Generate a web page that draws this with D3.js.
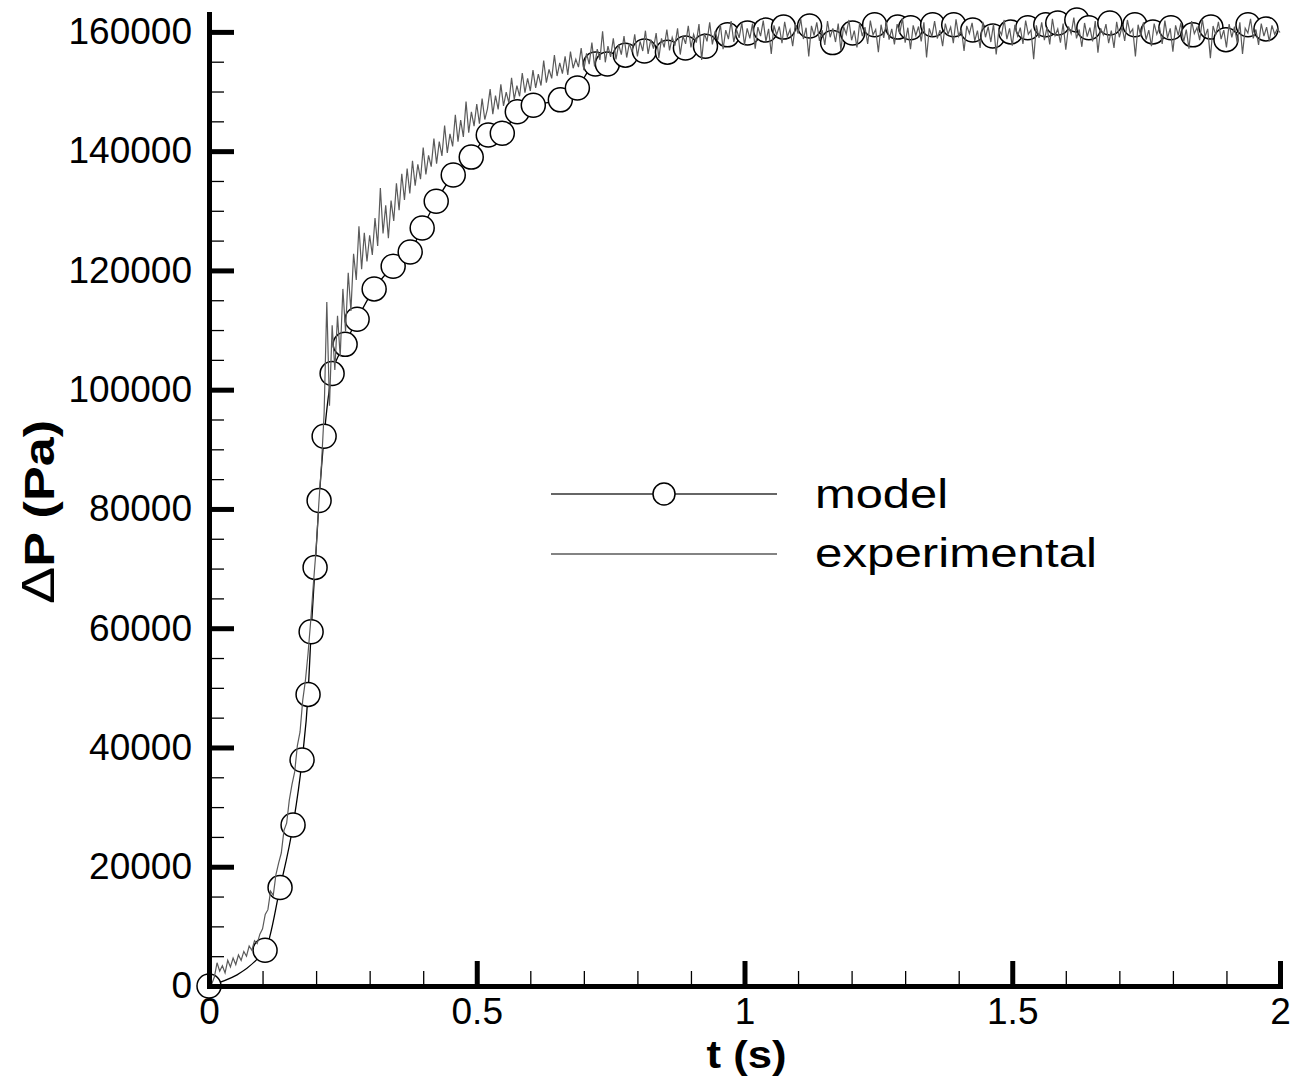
<!DOCTYPE html>
<html>
<head>
<meta charset="utf-8">
<script src="https://cdn.jsdelivr.net/npm/d3@7"></script>
<style>
    body { margin: 0; background: #fff; }
    svg { display: block; font-family: "Liberation Sans", Arial, sans-serif; }
</style>
</head>
<body>
<svg id="chart"></svg>
<script>
// model output (marker points)
var modelT = [0, 0.1047, 0.1327, 0.157, 0.1738, 0.185, 0.1907, 0.1981, 0.2056, 0.215,
    0.2299, 0.2542, 0.2766, 0.3084, 0.3439, 0.3757, 0.3981, 0.4243, 0.4561, 0.4897,
    0.5215, 0.5477, 0.5757, 0.6056, 0.6561, 0.6879, 0.7215, 0.7439, 0.7776, 0.8131,
    0.8561, 0.8897, 0.9271, 0.9682, 1.0056, 1.0393, 1.0729, 1.1215, 1.1645, 1.2019,
    1.243, 1.286, 1.3103, 1.3514, 1.3907, 1.4262, 1.4636, 1.4972, 1.529, 1.5626,
    1.585, 1.6206, 1.643, 1.6822, 1.729, 1.7626, 1.7963, 1.8374, 1.871, 1.8991,
    1.9402, 1.9738];
var modelP = [0, 6000, 16500, 27000, 37900, 48900, 59400, 70200, 81400, 92200,
    102700, 107600, 111800, 116900, 120700, 123100, 127100, 131600, 136000, 139000,
    142700, 143000, 146600, 147700, 148600, 150600, 154600, 154600, 156100, 156800,
    156600, 157300, 157600, 159500, 159800, 160300, 160800, 161000, 158200, 159800,
    161200, 160800, 160700, 161200, 161200, 160300, 159300, 160000, 160700, 161200,
    161500, 162000, 160700, 161500, 161200, 160000, 160700, 159500, 160800, 158700,
    161200, 160500];

// experimental signal, sampled every expStep seconds from t = 0
var expStep = 0.005;
var expP = [
    0, 300, 1500, 3900, 2500, 3400, 2200, 4300, 3200, 4700,
    3600, 5200, 4300, 5800, 5000, 6700, 6000, 7600, 7100, 8700,
    9600, 12000, 12800, 15900, 15200, 18700, 20600, 22300, 26100, 27300,
    31200, 33800, 35900, 40300, 42600, 47900, 51200, 55800, 61300, 67500,
    73200, 80800, 87400, 96100, 114700, 97300, 110800, 103300, 112400, 105600,
    116900, 109800, 119600, 113200, 122800, 118400, 127400, 120200, 126300, 121500,
    125900, 122600, 128800, 124100, 133800, 126200, 130900, 125400, 131700, 128300,
    134600, 130100, 136200, 131800, 137100, 132900, 138400, 134200, 137800, 135300,
    140600, 136100, 139300, 137400, 142100, 137900, 141600, 139200, 144300, 139700,
    142900, 140800, 146100, 141600, 145200, 142400, 148300, 143100, 146600, 144200,
    147900, 144600, 148800, 145300, 147100, 150400, 146200, 149300, 147000, 151200,
    147600, 149900, 148100, 152300, 148700, 151000, 149200, 153100, 149800, 152200,
    150100, 153600, 150600, 152900, 151000, 155200, 151500, 153700, 152200, 156100,
    152600, 154800, 153000, 155900, 152800, 156700, 153900, 155400, 154100, 157300,
    153600, 156400, 154600, 158200, 154200, 157100, 155300, 160100, 154900, 157600,
    155800, 158900, 155400, 157900, 156200, 159300, 155700, 158100, 156600, 159600,
    155900, 158400, 156800, 160200, 156300, 158700, 157200, 159800, 155600, 158900,
    157400, 160400, 156900, 159100, 157700, 160600, 156200, 159300, 158000, 161000,
    157400, 159600, 158200, 161300, 155300, 159800, 158400, 161600, 157900, 160100,
    158600, 161200, 157100, 160300, 158800, 161800, 158300, 160400, 159000, 161500,
    157800, 160600, 158900, 161400, 157200, 160800, 159300, 161900, 158400, 160500,
    156300, 161100, 159500, 160900, 158100, 161700, 159200, 160400, 157600, 161300,
    159700, 162200, 158800, 160700, 155900, 161000, 159400, 161600, 158500, 160300,
    157800, 161800, 159100, 160600, 158300, 161400, 156900, 160900, 159600, 162000,
    158600, 160200, 157400, 161500, 159300, 160800, 158000, 161900, 159500, 160400,
    156600, 161200, 159000, 161700, 158700, 160500, 157900, 161300, 159800, 162300,
    158200, 160700, 157100, 161100, 159400, 160900, 158400, 161600, 155700, 160600,
    159200, 161800, 158900, 160300, 157600, 161400, 159600, 160800, 158100, 162100,
    159300, 160500, 156800, 161000, 159700, 161500, 158500, 160200, 157300, 161700,
    159100, 160900, 158300, 161300, 156200, 160400, 159500, 162000, 158800, 160600,
    157700, 161200, 159300, 160700, 158000, 161900, 159600, 160300, 155400, 161100,
    159000, 161600, 158600, 160800, 157900, 162200, 159400, 160500, 158200, 161400,
    157000, 160900, 159700, 162400, 158900, 160400, 157500, 161500, 159200, 160700,
    158400, 161800, 156500, 160600, 159500, 161300, 158100, 160200, 157300, 161700,
    159100, 160900, 158500, 162000, 159800, 160500, 155900, 161200, 159300, 161600,
    158700, 160300, 157600, 161400, 159600, 160800, 158000, 161900, 159000, 160600,
    156700, 161100, 159400, 161500, 158300, 160400, 157200, 161800, 159700, 160700,
    158600, 162100, 159200, 160500, 155600, 161000, 159500, 161700, 158800, 160300,
    157400, 161300, 159100, 160900, 158200, 161600, 156300, 160600, 159800, 162200,
    158900, 160400, 157800, 161400, 159300, 160800, 158400, 161100, 159600, 160500,
    159900];

// axis ticks
var xTicks = [0, 0.5, 1, 1.5, 2];
var yTicks = [0, 20000, 40000, 60000, 80000, 100000, 120000, 140000, 160000];
var seriesNames = ["model", "experimental"];

function LineGraph(ID, cfg)
{
    var svgWidth = cfg.width, svgHeight = cfg.height;
    var margin = cfg.margin;
    var width = svgWidth - margin.left - margin.right;
    var height = svgHeight - margin.top - margin.bottom;

    var x = d3.scaleLinear().domain([0, 2]).range([0, width]);
    var y = d3.scaleLinear().domain([0, 163000]).range([height, 0]);

    var svg = d3.select("#" + ID).attr("width", svgWidth).attr("height", svgHeight);
    var g = svg.append("g").attr("transform", "translate(" + margin.left + "," + margin.top + ")");

    var model = modelT.map(function (t, i) { return {t: t, p: modelP[i]}; });
    var exp = expP.map(function (p, i) { return {t: i * expStep, p: p}; });

    var line = d3.line()
        .x(function (d) { return x(d.t); })
        .y(function (d) { return y(d.p); });

    // model line, then its markers
    g.append("path").datum(model)
        .attr("d", line.curve(d3.curveMonotoneX))
        .attr("fill", "none").attr("stroke", "#000").attr("stroke-width", 1.3);

    g.selectAll(".marker")
        .data(model)
        .enter().append("circle")
        .attr("class", "marker")
        .attr("cx", function (d) { return x(d.t); })
        .attr("cy", function (d) { return y(d.p); })
        .attr("r", 12)
        .attr("fill", "#fff").attr("stroke", "#000").attr("stroke-width", 1.5);

    // experimental signal on top
    g.append("path").datum(exp)
        .attr("d", line.curve(d3.curveLinear))
        .attr("fill", "none").attr("stroke", "#5a5a5a").attr("stroke-width", 1.2);

    // minor ticks
    var xMinor = d3.range(0, 2.001, 0.1).filter(function (v) { return Math.abs(v * 2 - Math.round(v * 2)) > 1e-6; });
    var yMinor = d3.range(0, 163000, 5000).filter(function (v) { return v % 20000 !== 0; });

    g.append("g").attr("class", "minor").attr("transform", "translate(0," + height + ")")
        .call(d3.axisBottom(x).tickValues(xMinor).tickSize(-15).tickFormat(""));
    g.append("g").attr("class", "minor")
        .call(d3.axisLeft(y).tickValues(yMinor).tickSize(-15).tickFormat(""));
    g.selectAll(".minor .domain").remove();
    g.selectAll(".minor line").attr("stroke", "#000").attr("stroke-width", 1.3);

    // add the x Axis
    g.append("g").attr("class", "major").attr("transform", "translate(0," + height + ")")
        .call(d3.axisBottom(x).tickValues(xTicks).tickSize(-25).tickSizeOuter(0).tickPadding(12).tickFormat(d3.format("~g")));

    // add the y Axis
    g.append("g").attr("class", "major")
        .call(d3.axisLeft(y).tickValues(yTicks).tickSize(-25).tickSizeOuter(0).tickPadding(17).tickFormat(d3.format("d")));

    g.selectAll(".major .domain").attr("stroke", "#000").attr("stroke-width", 5).attr("stroke-linecap", "square");
    g.selectAll(".major line").attr("stroke", "#000").attr("stroke-width", 5);
    g.selectAll(".major text").attr("fill", "#000").style("font-size", "37px").style("font-family", "'Liberation Sans', Arial, sans-serif");

    //text label for x axis
    svg.append("text").attr("x", margin.left + width / 2 + 2).attr("y", 1068)
        .attr("text-anchor", "middle").style("font-size", "38px").style("font-weight", "bold")
        .attr("textLength", 80).attr("lengthAdjust", "spacingAndGlyphs")
        .text(cfg.labelx);

    //text label for y axis
    var yl = svg.append("text").attr("transform", "translate(54," + 512 + ") rotate(-90)")
        .attr("text-anchor", "middle").style("font-size", "43px").style("font-weight", "bold")
        .attr("textLength", 184).attr("lengthAdjust", "spacingAndGlyphs");
    yl.append("tspan").style("font-weight", "normal").style("font-size", "46px").text(cfg.labely[0]);
    yl.append("tspan").text(cfg.labely.slice(1));

    // legend
    var leg = svg.append("g").attr("transform", "translate(551,494)");
    leg.append("line").attr("x1", 0).attr("x2", 226).attr("y1", 0).attr("y2", 0)
        .attr("stroke", "#333").attr("stroke-width", 1.6);
    leg.append("circle").attr("cx", 113).attr("cy", 0).attr("r", 11)
        .attr("fill", "#fff").attr("stroke", "#000").attr("stroke-width", 1.5);
    leg.append("line").attr("x1", 0).attr("x2", 226).attr("y1", 60).attr("y2", 60)
        .attr("stroke", "#5a5a5a").attr("stroke-width", 1.4);
    leg.selectAll(".legtext")
        .data(seriesNames)
        .enter().append("text")
        .attr("class", "legtext")
        .attr("x", 264)
        .attr("y", function (d, i) { return 14 + i * 59; })
        .attr("textLength", function (d, i) { return i === 0 ? 133 : 282; })
        .attr("lengthAdjust", "spacingAndGlyphs")
        .style("font-size", "41px")
        .text(function (d) { return d; });
}

LineGraph("chart", {
    width: 1303,
    height: 1081,
    margin: {top: 14, right: 23, bottom: 95, left: 209},
    labelx: "t (s)",
    labely: "\u0394P (Pa)"
});
</script>
</body>
</html>
